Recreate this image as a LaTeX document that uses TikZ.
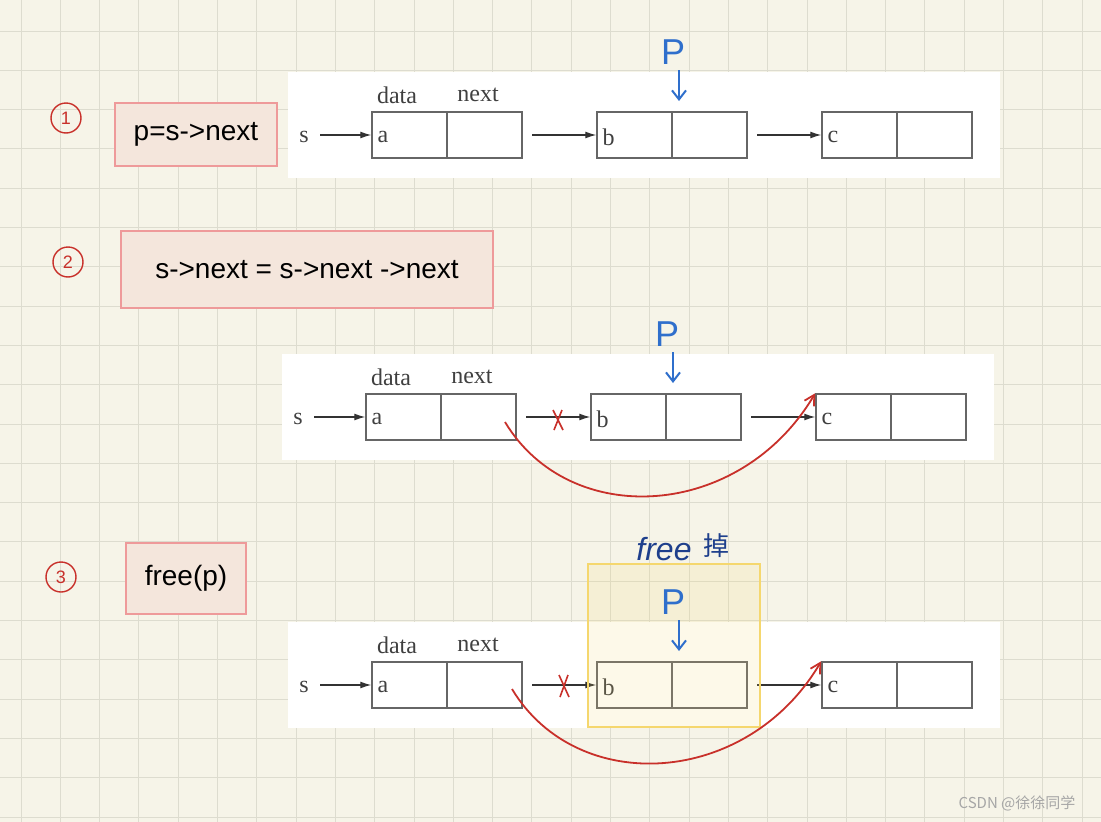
\documentclass[tikz,border=0pt]{standalone}
\usepackage{fontspec}
\setmainfont{Liberation Sans}
\newfontfamily\mono{Liberation Serif}
\newfontfamily\cjk{Noto Sans CJK SC}
\usetikzlibrary{arrows.meta}
\definecolor{paper}{HTML}{F6F4E8}
\definecolor{gridc}{HTML}{DDDCCF}
\definecolor{pinkb}{HTML}{EE9A9A}
\definecolor{pinkf}{HTML}{F4E6DC}
\definecolor{hand}{HTML}{C8302A}
\definecolor{pblue}{HTML}{2F6FCC}
\definecolor{dblue}{HTML}{1E3F8C}
\definecolor{ybox}{HTML}{F5D76E}
\tikzset{
 cell/.style={draw=gray!80!black,line width=1.5pt,fill=white,minimum width=75pt,minimum height=46pt,inner sep=0pt},
 code/.style={draw=pinkb,line width=1.2pt,fill=pinkf,inner sep=0pt,font=\fontsize{28}{28}\selectfont},
 lbl/.style={font=\mono\fontsize{24}{24}\selectfont,text=black!75},
 ptr/.style={-{Latex[length=11pt,width=7pt]},line width=1.2pt,black!80},
 circ/.style={draw=hand,line width=1.4pt,circle,minimum size=30pt,text=hand,font=\fontsize{18}{18}\selectfont,inner sep=0pt},
 arc/.style={-{Straight Barb[length=10pt,width=11pt]},draw=hand,line width=1.8pt},
 pp/.style={text=pblue,font=\fontsize{36}{36}\selectfont},
 pa/.style={pblue,line width=2pt,-{Straight Barb[length=9pt,width=14pt]}},
}
\newcommand{\listrow}[3]{%
 \begin{scope}[shift={(#1,#2)}]
 \fill[white] (288,72) rectangle (1000,178);
 \node[lbl] (#3s) at (304,137) {s};
 \node[lbl] (#3dl) at (397,95) {data};
 \node[lbl] (#3nl) at (478,95) {next};
 \foreach \n/\x/\t in {a/372/a,b/597/b,c/822/c}{
   \node[cell] (#3\n1) at (\x+37.5,135) {};
   \node[cell] (#3\n2) at (\x+112.5,135) {};
   \node[lbl,anchor=west] at (\x+2,137) {\t};
 }
 \coordinate (#3o0) at (320,135); \draw[ptr] (#3o0) -- (#3a1.west);
 \coordinate (#3o1) at (532,135); \draw[ptr] (#3o1) -- (#3b1.west);
 \coordinate (#3o2) at (757,135); \draw[ptr] (#3o2) -- (#3c1.west);
 \coordinate (#3pt) at (679,70); \coordinate (#3ph) at (679,101);
 \end{scope}}
\begin{document}
\begin{tikzpicture}[x=1pt,y=-1pt]
\fill[paper] (0,0) rectangle (1101,822);
\useasboundingbox (0,0) rectangle (1101,822);
\foreach \i in {0,...,28}{\draw[gridc,line width=0.9pt] (21+39.3*\i,0) -- (21+39.3*\i,822);}
\foreach \i in {0,...,21}{\draw[gridc,line width=0.9pt] (0,31+39.3*\i) -- (1101,31+39.3*\i);}
\node[circ] (c1) at (66,118) {1};
\node[circ] (c2) at (68,262) {2};
\node[circ] (c3) at (61,577) {3};
\node[code,minimum width=162pt,minimum height=63pt] (k1) at (196,134.5) {p=s->next};
\node[code,minimum width=372pt,minimum height=77pt] (k2) at (307,269.5) {s->next = s->next ->next};
\node[code,minimum width=120pt,minimum height=71pt] (k3) at (186,578.5) {free(p)};
\listrow{0}{0}{A}
\listrow{-6}{282}{B}
\listrow{0}{550}{C}
\fill[ybox,opacity=0.15] (588,564) rectangle (760,727);
\draw[ybox,line width=2pt] (588,564) rectangle (760,727);
\node[pp] (P1) at (673,52) {P};
\draw[pa] (Apt) -- (Aph);
\node[pp] (P2) at (667,334) {P};
\draw[pa] (Bpt) -- (Bph);
\node[pp] (P3) at (673,602) {P};
\draw[pa] (Cpt) -- (Cph);
\node[text=dblue,font=\itshape\fontsize{32}{32}\selectfont] (fr) at (664,549) {free};
\node[text=dblue,font=\cjk\fontsize{26}{26}\selectfont] (di) at (716,546) {掉};
\coordinate (r1) at (505,422);
\draw[arc] (r1) .. controls (570,530) and (740,520) .. (Bc1.north west);
\draw[hand,line width=1.6pt] (553,410) -- (563,430) (562,410) -- (554,430);
\coordinate (r2) at (512,689);
\draw[arc] (r2) .. controls (577,797) and (747,787) .. (Cc1.north west);
\draw[hand,line width=1.6pt] (559,675) -- (569,697) (568,675) -- (560,697);
\node[text=gray!70,font=\cjk\fontsize{15}{15}\selectfont] (wm) at (1017,803) {CSDN @徐徐同学};
\end{tikzpicture}
\end{document}
